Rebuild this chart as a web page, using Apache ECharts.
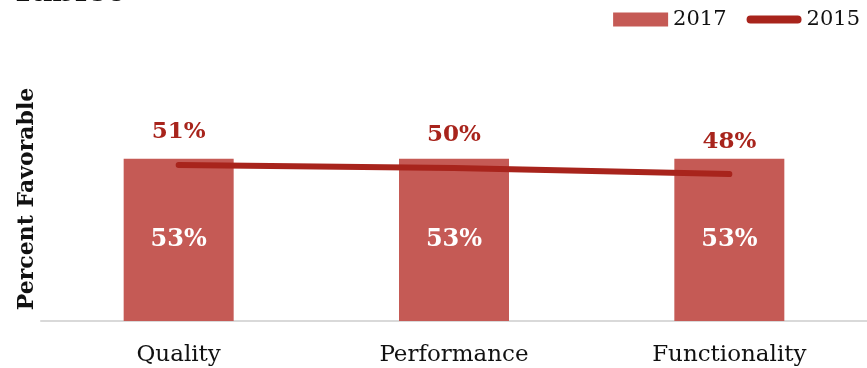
<!DOCTYPE html>
<html>
<head>
<meta charset="utf-8">
<script src="https://cdn.jsdelivr.net/npm/echarts@6/dist/echarts.min.js"></script>
<style>
  html, body { margin: 0; padding: 0; background: #fff; }
  #chart { width: 867px; height: 368px; }
</style>
</head>
<body>
<div id="chart"></div>
<script>
// Survey results: percent favorable by attribute
const categories = ['Quality', 'Performance', 'Functionality'];
const values2017 = [53, 53, 53];
const values2015 = [51, 50, 48];
const titleText = 'Tablet';
const yAxisName = 'Percent Favorable';

const serif = '"DejaVu Serif", "Liberation Serif", serif';
const lineIcon = 'path://M4,0 L52,0 A4,4 0 0 1 52,8 L4,8 A4,4 0 0 1 4,0 Z';

const chart = echarts.init(document.getElementById('chart'), null, { renderer: 'canvas' });
chart.setOption({
  animation: false,
  title: {
    text: titleText,
    left: 6,
    top: -28,
    textStyle: { fontFamily: serif, fontWeight: 'bold', fontSize: 32, color: '#111' }
  },
  legend: {
    right: 2,
    top: 4,
    itemWidth: 55,
    itemHeight: 14,
    itemGap: 20,
    textStyle: { fontFamily: serif, fontSize: 21, color: '#111' },
    data: [
      { name: '2017', icon: 'rect' },
      { name: '2015', icon: lineIcon }
    ]
  },
  grid: { left: 41, right: -5, top: 15, bottom: 47, containLabel: false },
  xAxis: {
    type: 'category',
    data: categories,
    axisLine: { show: true, lineStyle: { color: '#D9D9D9', width: 2 } },
    axisTick: { show: false },
    axisLabel: { fontFamily: serif, fontSize: 23, color: '#111', margin: 23 }
  },
  yAxis: {
    type: 'value',
    min: 0,
    max: 100,
    name: yAxisName,
    nameLocation: 'middle',
    nameGap: 3,
    nameRotate: 90,
    nameTextStyle: {
      fontFamily: serif, fontWeight: 'bold', fontSize: 22, color: '#111',
      padding: [0, 62, 0, 0]
    },
    axisLine: { show: false },
    axisTick: { show: false },
    axisLabel: { show: false },
    splitLine: { show: false }
  },
  series: [
    {
      name: '2017',
      type: 'bar',
      data: values2017,
      barWidth: 110,
      itemStyle: { color: '#C55A55' },
      label: {
        show: true,
        position: 'inside',
        formatter: '{c}%',
        fontFamily: serif,
        fontWeight: 'bold',
        fontSize: 24,
        color: '#fff'
      }
    },
    {
      name: '2015',
      type: 'line',
      data: values2015,
      symbol: 'circle',
      symbolSize: 0,
      showSymbol: true,
      lineStyle: { color: '#A8241C', width: 6, cap: 'round' },
      itemStyle: { color: '#A8241C' },
      label: {
        show: true,
        position: 'top',
        distance: 21,
        formatter: '{c}%',
        fontFamily: serif,
        fontWeight: 'bold',
        fontSize: 23,
        color: '#A8241C'
      },
      z: 3
    }
  ]
});
</script>
</body>
</html>
